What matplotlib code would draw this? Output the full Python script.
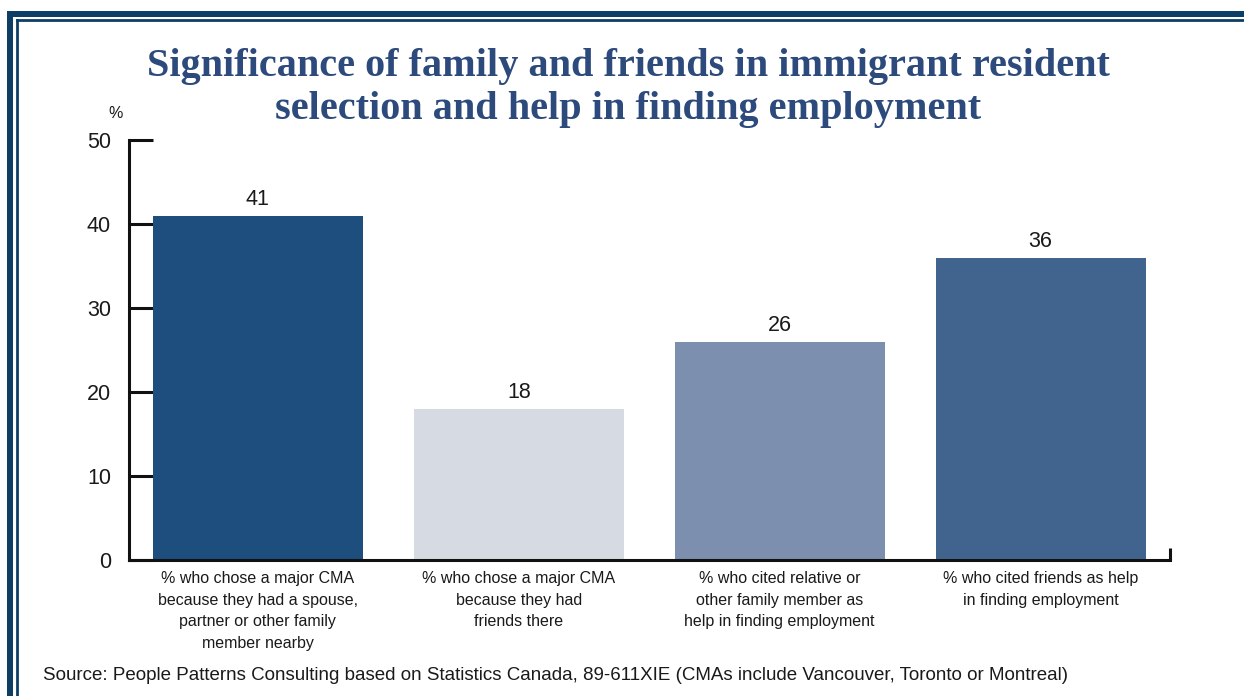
import matplotlib.pyplot as plt
from matplotlib.patches import Rectangle
from matplotlib.lines import Line2D


TITLE = "Significance of family and friends in immigrant resident\nselection and help in finding employment"
SOURCE = ("Source: People Patterns Consulting based on Statistics Canada, 89-611XIE "
          "(CMAs include Vancouver, Toronto or Montreal)")

categories = [
    "% who chose a major CMA\nbecause they had a spouse,\npartner or other family\nmember nearby",
    "% who chose a major CMA\nbecause they had\nfriends there",
    "% who cited relative or\nother family member as\nhelp in finding employment",
    "% who cited friends as help\nin finding employment",
]
values = [41, 18, 26, 36]
bar_colors = ["#1d4e7e", "#d6dae2", "#7c8fae", "#41648f"]
y_ticks = [0, 10, 20, 30, 40, 50]

FRAME = "#0d3e66"
TITLE_COLOR = "#2c4a7b"
TEXT = "#1a1a1a"
W, H = 1244, 696


def draw():

    fig = plt.figure(figsize=(W / 100, H / 100), dpi=100)
    fig.patch.set_facecolor("white")

    # double border along the top and left edge
    fig.add_artist(Rectangle((7 / W, -0.1), 6 / W, 1.1 - 11 / H,
                             transform=fig.transFigure, color=FRAME, lw=0))
    fig.add_artist(Rectangle((7 / W, 1 - 17 / H), 1.1, 6 / H,
                             transform=fig.transFigure, color=FRAME, lw=0))
    fig.add_artist(Line2D([17 / W, 17 / W], [-0.1, 1 - 20 / H],
                          transform=fig.transFigure, color=FRAME, lw=2))
    fig.add_artist(Line2D([17 / W, 1.1], [1 - 20 / H, 1 - 20 / H],
                          transform=fig.transFigure, color=FRAME, lw=2))

    ax = fig.add_axes([129 / W, 1 - 560 / H, (1170 - 129) / W, (560 - 140) / H])

    x = list(range(len(values)))
    bars = ax.bar(x, values, width=0.805, color=bar_colors, zorder=2)

    for rect, v in zip(bars, values):
        ax.text(rect.get_x() + rect.get_width() / 2, v + 0.7, str(v),
                ha="center", va="bottom", fontsize=15.5, color=TEXT,
                family="Liberation Sans")

    ax.set_xlim(-0.494, 3.496)
    ax.set_ylim(0, 50)

    ax.set_yticks(y_ticks)
    ax.set_yticklabels([str(t) for t in y_ticks], fontsize=15.5, color=TEXT,
                       family="Liberation Sans")
    ax.tick_params(axis="y", direction="in", length=17, width=2.2, pad=13, color="#111111")

    ax.set_xticks(x)
    ax.set_xticklabels(categories, fontsize=11.5, color=TEXT, linespacing=1.55,
                       family="Liberation Sans", va="top")
    ax.tick_params(axis="x", which="major", length=0, pad=8)

    # small upturned tick at the right end of the baseline
    ax.set_xticks([3.496], minor=True)
    ax.tick_params(axis="x", which="minor", direction="in", length=9, width=2.2, color="#111111")

    for side in ["top", "right"]:
        ax.spines[side].set_visible(False)
    for side in ["left", "bottom"]:
        ax.spines[side].set_linewidth(2.2)
        ax.spines[side].set_color("#111111")

    ax.text(-0.013, 1.063, "%", transform=ax.transAxes, ha="center", va="center",
            fontsize=11.5, color=TEXT, family="Liberation Sans")

    fig.text(628 / W, 1 - 88 / H, TITLE, ha="center", va="center",
             fontsize=29, fontweight="bold", color=TITLE_COLOR,
             family="Liberation Serif", linespacing=1.22)

    fig.text(43 / W, 1 - 675 / H, SOURCE, ha="left", va="center",
             fontsize=13.5, color=TEXT, family="Liberation Sans")

    fig.savefig("out.png", dpi=100)
    plt.close(fig)


if __name__ == "__main__":
    draw()
